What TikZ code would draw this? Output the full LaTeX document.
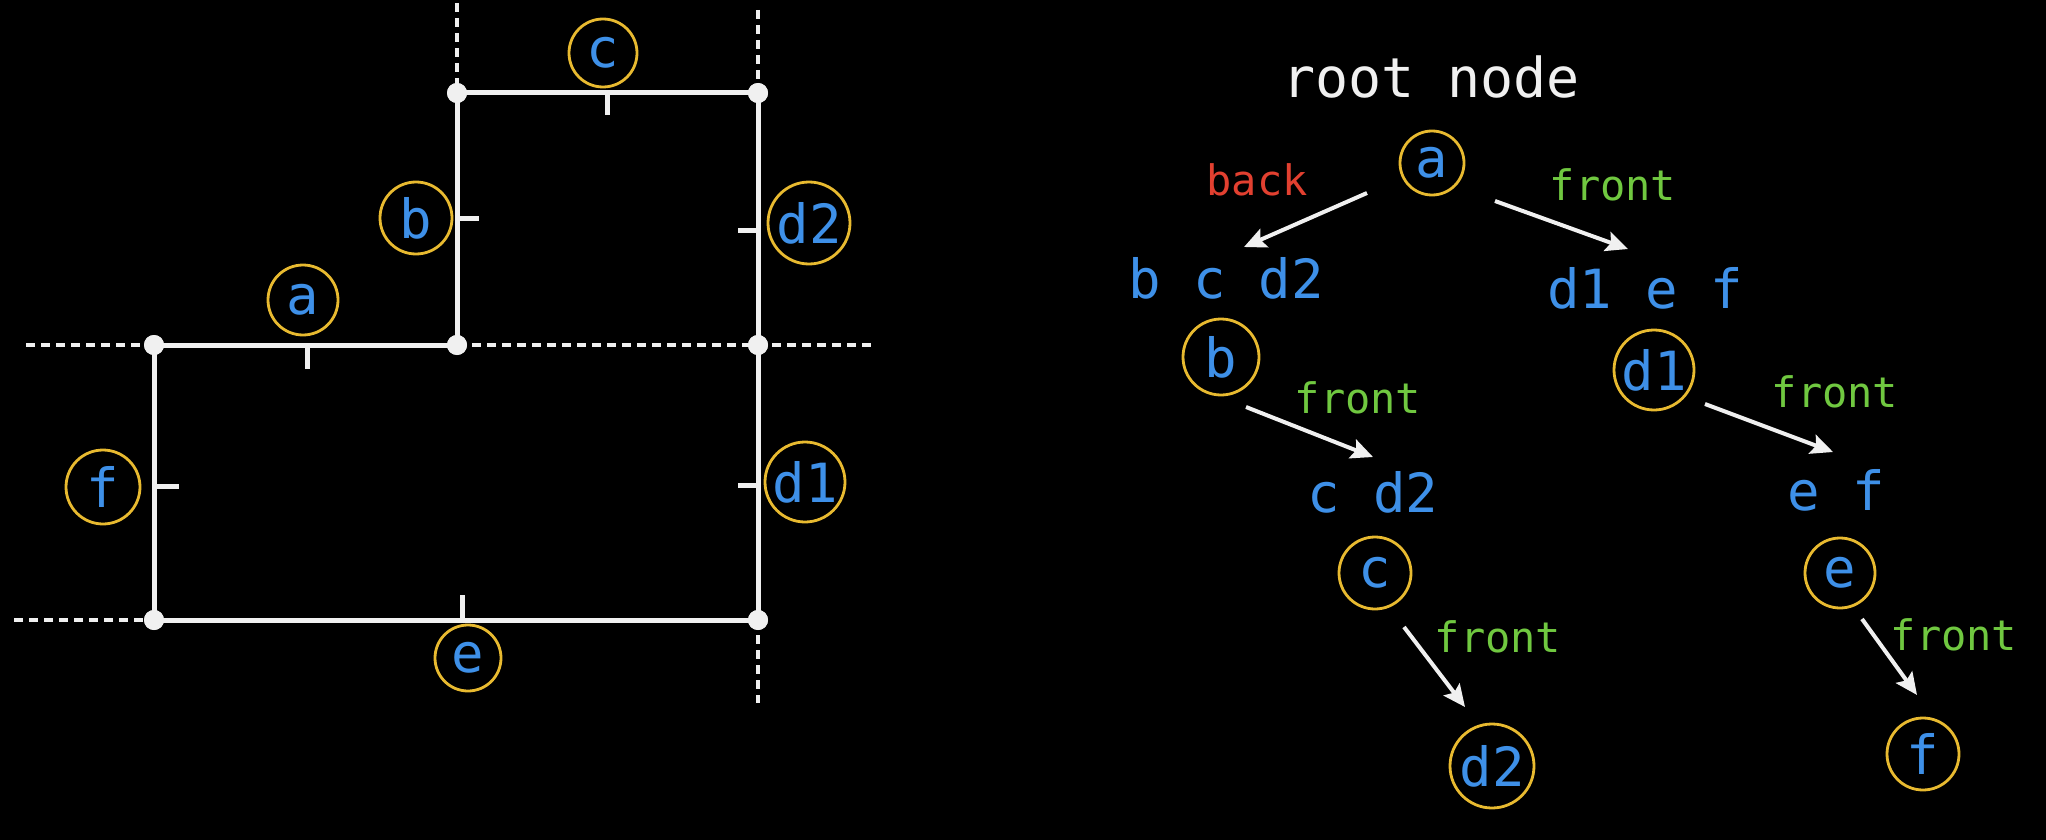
\documentclass[tikz,border=0pt]{standalone}
\usepackage{fontspec}
\setmonofont{DejaVu Sans Mono}
\usetikzlibrary{arrows.meta}
\definecolor{lblue}{RGB}{62,144,232}
\definecolor{gold}{RGB}{232,186,48}
\definecolor{lgreen}{RGB}{112,200,64}
\definecolor{lred}{RGB}{226,64,48}
\definecolor{wline}{RGB}{240,240,240}
\begin{document}
\begin{tikzpicture}[x=0.5pt,y=-0.5pt,
  wall/.style={line width=2.5pt, draw=wline},
  guide/.style={line width=1.6pt, draw=wline, dash pattern=on 4.5pt off 3pt},
  joint/.style={circle, fill=wline, inner sep=0pt, minimum size=10pt},
  ring/.style={circle, draw=gold, line width=1.4pt, inner sep=0pt, minimum size=35pt, text=lblue, font=\ttfamily\fontsize{27pt}{30pt}\selectfont},
  ringw/.style={ring, minimum size=41pt},
  setlbl/.style={text=lblue, font=\ttfamily\fontsize{27pt}{30pt}\selectfont, inner sep=0pt, anchor=base},
  edgelbl/.style={font=\ttfamily\fontsize{21pt}{24pt}\selectfont, inner sep=0pt, anchor=base},
  arr/.style={draw=wline, line width=2pt, -{Stealth[length=11pt,width=10pt,inset=2pt]}},
]
\useasboundingbox (0,0) rectangle (2046,840);
\fill[black] (0,0) rectangle (2046,840);

% ---------- left: plan ----------
\node[joint] (p1) at (154,345) {};
\node[joint] (p2) at (457,345) {};
\node[joint] (p3) at (457,93) {};
\node[joint] (p4) at (758,93) {};
\node[joint] (p5) at (758,345) {};
\node[joint] (p6) at (758,620) {};
\node[joint] (p7) at (154,620) {};

\coordinate (g1) at (26,345);
\coordinate (g2) at (873,345);
\coordinate (g3) at (14,620);
\coordinate (g4) at (457,3);
\coordinate (g5) at (758,10);
\coordinate (g6) at (758,703);

\draw[guide] (g1) -- (p1.center);
\draw[guide] (p2.center) -- (g2);
\draw[guide] (g3) -- (p7.center);
\draw[guide] (g4) -- (p3.center);
\draw[guide] (g5) -- (p4.center);
\draw[guide] (p6.center) -- (g6);

\draw[wall] (p1.center) -- (p2.center);
\draw[wall] (p2.center) -- (p3.center);
\draw[wall] (p3.center) -- (p4.center);
\draw[wall] (p4.center) -- (p5.center);
\draw[wall] (p5.center) -- (p6.center);
\draw[wall] (p6.center) -- (p7.center);
\draw[wall] (p7.center) -- (p1.center);

% normals
\draw[wall] (307,345) -- (307,369);
\draw[wall] (457,218) -- (479,218);
\draw[wall] (607,93) -- (607,115);
\draw[wall] (758,230) -- (738,230);
\draw[wall] (758,485) -- (738,485);
\draw[wall] (462,620) -- (462,595);
\draw[wall] (154,486) -- (179,486);

\node[joint] at (p1) {};
\node[joint] at (p2) {};
\node[joint] at (p3) {};
\node[joint] at (p4) {};
\node[joint] at (p5) {};
\node[joint] at (p6) {};
\node[joint] at (p7) {};

\node[ring] (la) at (303,300) {a};
\node[ring, minimum size=36pt] (lb) at (416,218) {b};
\node[ring, minimum size=34pt] (lc) at (603,53) {c};
\node[ringw] (ld2) at (809,223) {d2};
\node[ringw, minimum size=40pt] (ld1) at (805,482) {d1};
\node[ring, minimum size=33pt] (le) at (468,658) {e};
\node[ring, minimum size=37pt] (lf) at (103,487) {f};

% ---------- right: tree ----------
\node[edgelbl, text=wline, font=\ttfamily\fontsize{27.5pt}{30pt}\selectfont] (root) at (1431,98) {root node};
\node[ring, minimum size=32pt] (ta) at (1432,163) {a};

\node[edgelbl, text=lred] (lback) at (1257,195) {back};
\node[edgelbl, text=lgreen] (lf1) at (1613,200) {front};

\node[setlbl] (s1) at (1226,298) {b c d2};
\node[setlbl] (s2) at (1645,308) {d1 e f};

\coordinate (a1s) at (1367,193);
\coordinate (a1e) at (1244,247);
\coordinate (a2s) at (1495,201);
\coordinate (a2e) at (1628,249);
\draw[arr] (a1s) -- (a1e);
\draw[arr] (a2s) -- (a2e);

\node[ring, minimum size=38pt] (tb) at (1221,357) {b};
\node[ringw, minimum size=40pt] (td1) at (1654,370) {d1};

\node[edgelbl, text=lgreen] (lf2) at (1358,413) {front};
\node[edgelbl, text=lgreen] (lf3) at (1835,407) {front};

\coordinate (a3s) at (1246,407);
\coordinate (a3e) at (1373,457);
\coordinate (a4s) at (1705,404);
\coordinate (a4e) at (1833,452);
\draw[arr] (a3s) -- (a3e);
\draw[arr] (a4s) -- (a4e);

\node[setlbl] (s3) at (1373,512) {c d2};
\node[setlbl] (s4) at (1836,510) {e f};

\node[ring, minimum size=36pt] (tc) at (1375,573) {c};
\node[ring] (te) at (1840,573) {e};

\node[edgelbl, text=lgreen] (lf4) at (1498,652) {front};
\node[edgelbl, text=lgreen] (lf5) at (1954,650) {front};

\coordinate (a5s) at (1404,627);
\coordinate (a5e) at (1465,707);
\coordinate (a6s) at (1862,619);
\coordinate (a6e) at (1917,695);
\draw[arr] (a5s) -- (a5e);
\draw[arr] (a6s) -- (a6e);

\node[ringw, minimum size=42pt] (td2) at (1492,766) {d2};
\node[ring, minimum size=36pt] (tf) at (1923,754) {f};
\end{tikzpicture}
\end{document}
